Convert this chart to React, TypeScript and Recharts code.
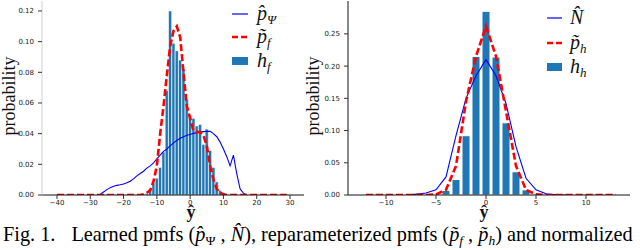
import React from 'react';
import { ComposedChart, Bar, Line, XAxis, YAxis, Legend } from 'recharts';

// ---------------- Left panel data ----------------
const leftBinX = [-13, -12, -11, -10, -9, -8, -7, -6, -5, -4, -3, -2, -1, 0, 1, 2, 3, 4, 5, 6, 7, 8, 9, 10];
const leftBinH = [0.001, 0.004, 0.008, 0.011, 0.018, 0.028, 0.068, 0.12, 0.099, 0.094, 0.088, 0.082, 0.062, 0.052, 0.05, 0.045, 0.046, 0.033, 0.043, 0.029, 0.018, 0.0086, 0.003, 0.0015];

const leftPfX = [-40, -15, -14, -13, -12, -11, -10, -9, -8, -7, -6, -5, -4, -3, -2, -1, 0, 1, 2, 3, 4, 5, 6, 7, 8, 9, 10, 11, 29];
const leftPfY = [0, 0, 0.0005, 0.0015, 0.003, 0.009, 0.019, 0.04, 0.058, 0.078, 0.097, 0.107, 0.11, 0.103, 0.08, 0.058, 0.05, 0.042, 0.041, 0.041, 0.039, 0.032, 0.019, 0.01, 0.004, 0.0015, 0.0005, 0, 0];

const leftPsiX = [-27, -26, -25, -24, -23, -22, -21, -20, -19, -18, -17, -16, -15, -14, -13, -12, -11, -10, -9, -8, -7, -6, -5, -4, -3, -2, -1, 0, 1, 2, 3, 4, 5, 6, 7, 8, 9, 10, 11, 12, 13, 14, 15, 16, 17];
const leftPsiY = [0.0005, 0.002, 0.0035, 0.0048, 0.0057, 0.0063, 0.0067, 0.0072, 0.008, 0.009, 0.0105, 0.0125, 0.014, 0.0155, 0.0175, 0.019, 0.021, 0.0235, 0.026, 0.0285, 0.03, 0.032, 0.034, 0.0355, 0.037, 0.038, 0.039, 0.0395, 0.0402, 0.0406, 0.041, 0.0413, 0.0415, 0.0415, 0.04, 0.038, 0.0345, 0.03, 0.025, 0.019, 0.026, 0.014, 0.004, 0.0012, 0];

const leftXTicks = [-40, -30, -20, -10, 0, 10, 20, 30];
const leftYTicks = [0, 0.02, 0.04, 0.06, 0.08, 0.1, 0.12];

// ---------------- Right panel data ----------------
const rightBinX = [-7, -4, -3, -2, -1, 0, 1, 2, 3, 4, 5];
const rightBinH = [0.003, 0.007, 0.024, 0.092, 0.215, 0.285, 0.214, 0.112, 0.036, 0.008, 0.001];

const rightPhX = [-12, -6, -5, -4, -3, -2, -1, 0, 1, 2, 3, 4, 5, 6, 13];
const rightPhY = [0, 0, 0.001, 0.008, 0.045, 0.145, 0.215, 0.262, 0.215, 0.13, 0.045, 0.008, 0.001, 0, 0];

const rightNX = [-8, -7, -6, -5, -4, -3, -2, -1, 0, 1, 2, 3, 4, 5, 6, 7, 8];
const rightNY = [0, 0.001, 0.003, 0.008, 0.028, 0.092, 0.15, 0.185, 0.21, 0.185, 0.142, 0.075, 0.026, 0.008, 0.002, 0.0005, 0];

const rightXTicks = [-10, -5, 0, 5, 10];
const rightYTicks = [0, 0.05, 0.1, 0.15, 0.2, 0.25];

// ---------------- styles ----------------
const SERIF = '"Liberation Serif", "DejaVu Serif", serif';
const SANS = '"DejaVu Sans", sans-serif';
const BAR_BLUE = '#1f77b4';
const LINE_BLUE = '#0000ff';
const RED = '#ff0000';
const FRAME = '#d0d0d0';

type Row = { x: number; h?: number; a?: number; b?: number };

function buildRows(
  binX: number[], binH: number[],
  aX: number[], aY: number[],
  bX: number[], bY: number[]
): Row[] {
  const m = new Map<number, Row>();
  const get = (x: number) => {
    let r = m.get(x);
    if (!r) { r = { x }; m.set(x, r); }
    return r;
  };
  binX.forEach((x, i) => { get(x).h = binH[i]; });
  aX.forEach((x, i) => { get(x).a = aY[i]; });
  bX.forEach((x, i) => { get(x).b = bY[i]; });
  return Array.from(m.values()).sort((p, q) => p.x - q.x);
}

const leftRows = buildRows(leftBinX, leftBinH, leftPsiX, leftPsiY, leftPfX, leftPfY);
const rightRows = buildRows(rightBinX, rightBinH, rightNX, rightNY, rightPhX, rightPhY);

const fmtX = (v: number) => (v < 0 ? '\u2212' + Math.abs(v) : String(v));

type LegendItem = { kind: 'line' | 'dash' | 'rect'; main: string; sub: string };

function makeLegend(rows: number[], lineX0: number, lineX1: number, textX: number, items: LegendItem[]) {
  return () => (
    <svg width={110} height={80} style={{ overflow: 'visible' }}>
      {items.map((it, i) => {
        const y = rows[i];
        return (
          <g key={i}>
            {it.kind === 'line' && (
              <line x1={lineX0} x2={lineX1} y1={y} y2={y} stroke={LINE_BLUE} strokeWidth={1.2} />
            )}
            {it.kind === 'dash' && (
              <line x1={lineX0} x2={lineX1} y1={y} y2={y} stroke={RED} strokeWidth={2.5} strokeDasharray="6 3" />
            )}
            {it.kind === 'rect' && (
              <rect x={lineX0} y={y - 4} width={lineX1 - lineX0} height={8} fill={BAR_BLUE} />
            )}
            <text x={textX} y={y + 6} fontFamily={SERIF} fontSize={20} fontStyle="italic" fill="#111">
              {it.main}
              {it.sub ? <tspan fontSize={13} dy={4}>{it.sub}</tspan> : null}
            </text>
          </g>
        );
      })}
    </svg>
  );
}

type PanelProps = {
  rows: Row[];
  domainX: [number, number];
  domainY: [number, number];
  xTicks: number[];
  yTicks: number[];
  yAxisWidth: number;
  marginRight: number;
  leftSpine: string;
  barSize: number;
  barStroke: number;
  legend: () => React.ReactElement;
  legendLeft: number;
};

function Panel(p: PanelProps) {
  return (
    <ComposedChart
      width={320}
      height={215}
      data={p.rows}
      margin={{ top: 1, right: p.marginRight, bottom: 0, left: 0 }}
    >
      <XAxis
        dataKey="x"
        type="number"
        domain={p.domainX}
        ticks={p.xTicks}
        interval={0}
        tickFormatter={fmtX}
        height={20}
        tickSize={4}
        tickMargin={1}
        axisLine={{ stroke: '#111', strokeWidth: 1 }}
        tickLine={{ stroke: '#333' }}
        tick={{ fontSize: 7, fill: '#222', fontFamily: SANS }}
        allowDataOverflow
      />
      <XAxis
        xAxisId="top"
        orientation="top"
        dataKey="x"
        type="number"
        domain={p.domainX}
        height={0}
        tick={false}
        tickLine={false}
        axisLine={{ stroke: FRAME }}
        allowDataOverflow
      />
      <YAxis
        type="number"
        domain={p.domainY}
        ticks={p.yTicks}
        interval={0}
        tickFormatter={(v: number) => v.toFixed(2)}
        width={p.yAxisWidth}
        tickSize={4}
        tickMargin={4}
        axisLine={{ stroke: p.leftSpine, strokeWidth: 1 }}
        tickLine={{ stroke: '#333' }}
        tick={{ fontSize: 7, fill: '#222', fontFamily: SANS }}
        allowDataOverflow
      />
      <YAxis
        yAxisId="r"
        orientation="right"
        type="number"
        domain={p.domainY}
        width={0}
        tick={false}
        tickLine={false}
        axisLine={{ stroke: FRAME }}
        allowDataOverflow
      />
      <Legend
        layout="vertical"
        align="center"
        verticalAlign="middle"
        content={p.legend}
        wrapperStyle={{ top: 0, left: p.legendLeft, width: 110, height: 80 }}
      />
      <Bar
        dataKey="h"
        fill={BAR_BLUE}
        stroke="#ffffff"
        strokeWidth={p.barStroke}
        barSize={p.barSize}
        isAnimationActive={false}
      />
      <Line
        dataKey="a"
        stroke={LINE_BLUE}
        strokeWidth={1.1}
        dot={false}
        activeDot={false}
        connectNulls
        type="linear"
        isAnimationActive={false}
      />
      <Line
        dataKey="b"
        stroke={RED}
        strokeWidth={2.6}
        strokeDasharray="7 3"
        dot={false}
        activeDot={false}
        connectNulls
        type="linear"
        isAnimationActive={false}
      />
    </ComposedChart>
  );
}

const leftLegend = makeLegend([14, 37, 61], 4, 20, 29, [
  { kind: 'line', main: 'p\u0302', sub: '\u03A8' },
  { kind: 'dash', main: 'p\u0303', sub: 'f' },
  { kind: 'rect', main: 'h', sub: 'f' },
]);

const rightLegend = makeLegend([18, 43, 67], 2, 17, 25, [
  { kind: 'line', main: 'N\u0302', sub: '' },
  { kind: 'dash', main: 'p\u0303', sub: 'h' },
  { kind: 'rect', main: 'h', sub: 'h' },
]);

export default function App() {
  return (
    <div style={{ position: 'absolute', left: 0, top: 0, width: 640, height: 250, background: '#fff', overflow: 'hidden' }}>
      <div style={{ position: 'absolute', left: 0, top: 0 }}>
        <Panel
          rows={leftRows}
          domainX={[-44.5, 34.2]}
          domainY={[0, 0.1265]}
          xTicks={leftXTicks}
          yTicks={leftYTicks}
          yAxisWidth={42}
          marginRight={16}
          leftSpine={FRAME}
          barSize={3.2}
          barStroke={0.6}
          legend={leftLegend}
          legendLeft={228}
        />
      </div>
      <div style={{ position: 'absolute', left: 320, top: 0 }}>
        <Panel
          rows={rightRows}
          domainX={[-13.8, 14.4]}
          domainY={[0, 0.301]}
          xTicks={rightXTicks}
          yTicks={rightYTicks}
          yAxisWidth={28}
          marginRight={10}
          leftSpine="#111"
          barSize={8}
          barStroke={1}
          legend={rightLegend}
          legendLeft={225}
        />
      </div>
      <svg width={640} height={250} style={{ position: 'absolute', left: 0, top: 0, pointerEvents: 'none' }}>
        <text x={15} y={96} transform="rotate(-90 15 96)" textAnchor="middle" fontFamily={SERIF} fontSize={18} fill="#111">probability</text>
        <text x={319} y={96} transform="rotate(-90 319 96)" textAnchor="middle" fontFamily={SERIF} fontSize={18} fill="#111">probability</text>
        <text x={191} y={218} textAnchor="middle" fontFamily={SERIF} fontSize={18} fontWeight="bold" fill="#111">{'\u0177'}</text>
        <text x={484} y={218} textAnchor="middle" fontFamily={SERIF} fontSize={18} fontWeight="bold" fill="#111">{'\u0177'}</text>
        <text x={3} y={241} fontFamily={SERIF} fontSize={20.3} fill="#000">
          Fig. 1.
          <tspan dx={16}>Learned pmfs (</tspan>
          <tspan fontStyle="italic">p{'\u0302'}</tspan>
          <tspan fontSize={13.5} dy={4}>{'\u03A8'}</tspan>
          <tspan dy={-4}> , </tspan>
          <tspan fontStyle="italic">N{'\u0302'}</tspan>
          <tspan>), reparameterized pmfs (</tspan>
          <tspan fontStyle="italic">p{'\u0303'}</tspan>
          <tspan fontSize={13.5} fontStyle="italic" dy={4}>f</tspan>
          <tspan dy={-4}> , </tspan>
          <tspan fontStyle="italic">p{'\u0303'}</tspan>
          <tspan fontSize={13.5} fontStyle="italic" dy={4}>h</tspan>
          <tspan dy={-4}>) and normalized</tspan>
        </text>
      </svg>
    </div>
  );
}
